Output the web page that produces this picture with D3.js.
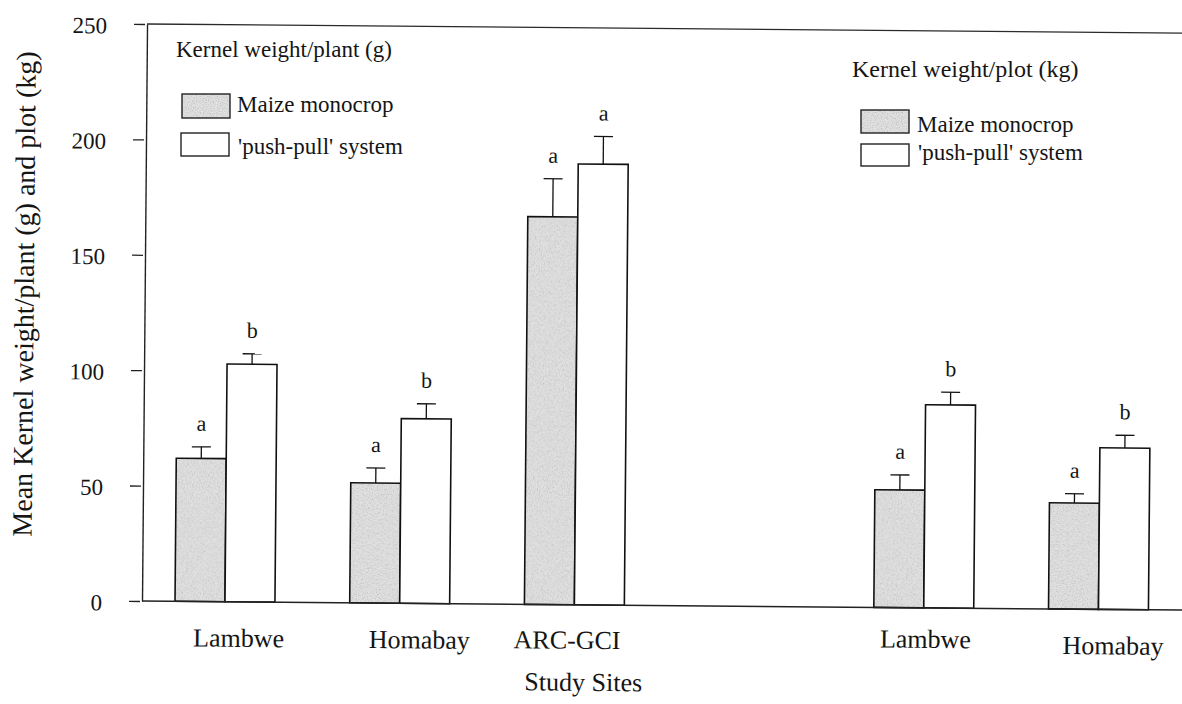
<!DOCTYPE html>
<html>
<head>
<meta charset="utf-8">
<script src="https://cdn.jsdelivr.net/npm/d3@7"></script>
<style>
  html, body { margin: 0; padding: 0; background: #ffffff; }
  svg { display: block; }
</style>
</head>
<body>
<script>
// Kernel weight per plant (g): three study sites
const plantSites = ["Lambwe", "Homabay", "ARC-GCI"];
const plantMonocrop = [62, 52, 168];
const plantPushPull = [103, 80, 191];
const plantMonocropErr = [5, 6.5, 16.5];
const plantPushPullErr = [4.5, 6.5, 12];
const plantMonocropLetters = ["a", "a", "a"];
const plantPushPullLetters = ["b", "b", "a"];

// Kernel weight per plot (kg): two study sites
const plotSites = ["Lambwe", "Homabay"];
const plotMonocrop = [51, 46];
const plotPushPull = [88, 70];
const plotMonocropErr = [6.5, 4];
const plotPushPullErr = [5.5, 5.5];
const plotMonocropLetters = ["a", "a"];
const plotPushPullLetters = ["b", "b"];

const seriesKeys = ["monocrop", "pushpull"];
const seriesNames = ["Maize monocrop", "'push-pull' system"];
const yTicks = [0, 50, 100, 150, 200, 250];

const W = 1182, H = 704;
const FONT = "'Liberation Serif', 'Times New Roman', Times, serif";
const INK = "#151515";

// per-label offsets for the hand-placed site names
const labelNudge = {
  "plant:Lambwe": [14, 0],
  "plant:Homabay": [20, 0],
  "plant:ARC-GCI": [-7, -1],
  "plot:Lambwe": [2, -5],
  "plot:Homabay": [15, 0]
};

// slot keys: plant sites, an empty spacer, then plot sites
const rows = [];
plantSites.forEach((s, i) => rows.push({
  slot: "plant:" + s, site: s,
  values: [plantMonocrop[i], plantPushPull[i]],
  errs: [plantMonocropErr[i], plantPushPullErr[i]],
  letters: [plantMonocropLetters[i], plantPushPullLetters[i]]
}));
plotSites.forEach((s, i) => rows.push({
  slot: "plot:" + s, site: s,
  values: [plotMonocrop[i], plotPushPull[i]],
  errs: [plotMonocropErr[i], plotPushPullErr[i]],
  letters: [plotMonocropLetters[i], plotPushPullLetters[i]]
}));
const slots = [...rows.slice(0, plantSites.length).map(r => r.slot), "spacer",
               ...rows.slice(plantSites.length).map(r => r.slot)];
const siteOf = Object.fromEntries(rows.map(r => [r.slot, r.site]));

const bars = rows.flatMap(r => seriesKeys.map((k, j) => ({
  slot: r.slot, key: k, value: r.values[j], err: r.errs[j], letter: r.letters[j]
})));

const svg = d3.select("body").append("svg")
  .attr("width", W).attr("height", H)
  .attr("font-family", FONT);

svg.append("rect").attr("width", W).attr("height", H).attr("fill", "#ffffff");

// grainy grey fill for the monocrop bars
const defs = svg.append("defs");
const grain = defs.append("filter").attr("id", "grain");
grain.append("feTurbulence").attr("type", "fractalNoise")
  .attr("baseFrequency", 0.8).attr("numOctaves", 2).attr("seed", 7).attr("result", "noise");
grain.append("feColorMatrix").attr("in", "noise").attr("type", "matrix")
  .attr("values", "0 0 0 0 0.5  0 0 0 0 0.5  0 0 0 0 0.5  2.4 0 0 0 -1.05")
  .attr("result", "specks");
grain.append("feComposite").attr("in", "specks").attr("in2", "SourceGraphic")
  .attr("operator", "in").attr("result", "specksIn");
const merge = grain.append("feMerge");
merge.append("feMergeNode").attr("in", "SourceGraphic");
merge.append("feMergeNode").attr("in", "specksIn");

defs.append("pattern").attr("id", "stipple")
  .attr("patternUnits", "userSpaceOnUse").attr("width", 240).attr("height", 240)
  .append("rect").attr("width", 240).attr("height", 240)
  .attr("fill", "#e1e1e1").attr("filter", "url(#grain)");

const fillOf = k => k === "monocrop" ? "url(#stipple)" : "#ffffff";

// plot area, drawn with a slight clockwise tilt
const x0 = 142;
const plot = svg.append("g").attr("transform", `rotate(0.5, ${x0}, 601)`);

const y = d3.scaleLinear().domain([0, 250]).range([601, 24]);
const x = d3.scaleBand().domain(slots).range([x0, 1181.5])
  .paddingInner(0.428).paddingOuter(0.189);
const xs = d3.scaleBand().domain(seriesKeys).range([0, x.bandwidth()]).padding(0);

// frame: top rule
plot.append("line").attr("x1", x0).attr("x2", 1210).attr("y1", y(250)).attr("y2", y(250))
  .attr("stroke", "#2a2a2a").attr("stroke-width", 1.3);

// bars
const barG = plot.append("g");
barG.selectAll("rect").data(bars).join("rect")
  .attr("x", d => x(d.slot) + xs(d.key))
  .attr("y", d => y(d.value))
  .attr("width", xs.bandwidth())
  .attr("height", d => y(0) - y(d.value))
  .attr("fill", d => fillOf(d.key))
  .attr("stroke", "#111")
  .attr("stroke-width", 1.6);

// error bars (upper half only)
const errG = plot.append("g").attr("stroke", "#111").attr("stroke-width", 1.3);
const cx = d => x(d.slot) + xs(d.key) + xs.bandwidth() / 2;
errG.selectAll("line.stem").data(bars).join("line").attr("class", "stem")
  .attr("x1", cx).attr("x2", cx)
  .attr("y1", d => y(d.value)).attr("y2", d => y(d.value + d.err));
errG.selectAll("line.cap").data(bars).join("line").attr("class", "cap")
  .attr("x1", d => cx(d) - 9.5).attr("x2", d => cx(d) + 9.5)
  .attr("y1", d => y(d.value + d.err)).attr("y2", d => y(d.value + d.err));

// significance letters
plot.append("g").selectAll("text").data(bars).join("text")
  .attr("x", cx)
  .attr("y", d => y(d.value + d.err) - 16)
  .attr("text-anchor", "middle")
  .attr("font-size", 22)
  .attr("fill", INK)
  .text(d => d.letter);

// baseline
plot.append("line").attr("x1", x0).attr("x2", 1210).attr("y1", y(0)).attr("y2", y(0))
  .attr("stroke", "#222").attr("stroke-width", 1.5);

// y axis
const gY = plot.append("g").attr("transform", `translate(${x0},0)`)
  .call(d3.axisLeft(y).tickValues(yTicks).tickSize(11).tickSizeOuter(0).tickPadding(29));
gY.select(".domain").attr("stroke", "#222").attr("stroke-width", 1.4);
gY.selectAll(".tick line").attr("x1", -2).attr("x2", -13)
  .attr("stroke", "#222").attr("stroke-width", 1.3);
gY.selectAll(".tick text")
  .attr("font-family", FONT).attr("font-size", 23).attr("fill", INK).attr("dy", "0.4em");

// x axis: site names
const gX = plot.append("g").attr("transform", `translate(0,${y(0)})`)
  .call(d3.axisBottom(x).tickValues(rows.map(r => r.slot)).tickSize(0).tickFormat(d => siteOf[d]));
gX.select(".domain").remove();
gX.selectAll(".tick text")
  .attr("font-family", FONT).attr("font-size", 26).attr("fill", INK)
  .attr("dy", null).attr("y", 45)
  .attr("dx", d => (labelNudge[d] || [0, 0])[0])
  .attr("transform", d => `translate(0,${(labelNudge[d] || [0, 0])[1]})`);

// axis titles
plot.append("text")
  .attr("transform", "translate(31,295) rotate(-90)")
  .attr("text-anchor", "middle").attr("font-size", 28).attr("fill", INK)
  .text("Mean Kernel weight/plant (g) and plot (kg)");

plot.append("text")
  .attr("x", 584).attr("y", 687)
  .attr("text-anchor", "middle").attr("font-size", 26).attr("fill", INK)
  .text("Study Sites");

// legends
const legends = [
  { title: "Kernel weight/plant (g)", tx: 176, ty: 57, size: 23,
    boxes: [[182, 94, 48, 24, 237, 112], [181, 133, 48, 23, 238, 154]] },
  { title: "Kernel weight/plot (kg)", tx: 852, ty: 77, size: 24,
    boxes: [[861, 110, 48, 23, 917, 132], [861, 144, 48, 22, 918, 160]] }
];
legends.forEach(L => {
  const g = svg.append("g");
  g.append("text").attr("x", L.tx).attr("y", L.ty)
    .attr("font-size", L.size).attr("fill", INK).text(L.title);
  seriesKeys.forEach((k, i) => {
    const b = L.boxes[i];
    g.append("rect").attr("x", b[0]).attr("y", b[1]).attr("width", b[2]).attr("height", b[3])
      .attr("fill", fillOf(k)).attr("stroke", "#222").attr("stroke-width", 1.4);
    g.append("text").attr("x", b[4]).attr("y", b[5])
      .attr("font-size", 23).attr("fill", INK).text(seriesNames[i]);
  });
});
</script>
</body>
</html>
